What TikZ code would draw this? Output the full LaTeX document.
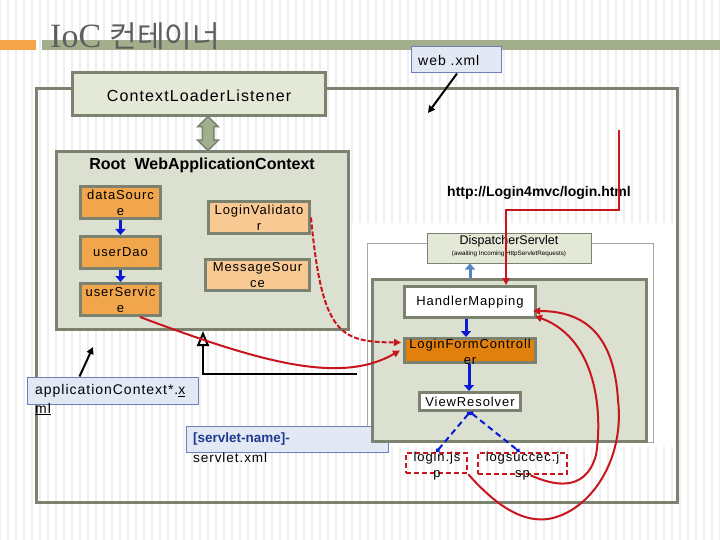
\documentclass[tikz,border=0pt]{standalone}
\usepackage{fontspec}
\setmainfont{Liberation Sans}
\newfontfamily\gfont[LetterSpace=7]{Liberation Sans}
\newfontfamily\serfont{Liberation Serif}
\newfontfamily\krfont{Noto Sans CJK KR}
\usetikzlibrary{arrows.meta,calc,shapes.arrows}
\definecolor{bord}{HTML}{7B826F}
\definecolor{ctxfill}{HTML}{E4E8D6}
\definecolor{rootfill}{HTML}{DCE0D1}
\definecolor{orng}{HTML}{F2A64C}
\definecolor{lorng}{HTML}{F9C994}
\definecolor{dorng}{HTML}{E2800E}
\definecolor{xmlfill}{HTML}{E2E9F5}
\definecolor{xmlbord}{HTML}{6E7FB5}
\definecolor{redc}{HTML}{C8161E}
\definecolor{bluec}{HTML}{0A1AD6}
\definecolor{steel}{HTML}{5686C0}
\definecolor{barg}{HTML}{A3AF8C}
\definecolor{baro}{HTML}{F5A44A}
\definecolor{stripec}{HTML}{EFEFEF}
\definecolor{snblue}{HTML}{1F3A8F}
\definecolor{titlec}{HTML}{5E5E5E}
\tikzset{
  gbox/.style={draw=bord, line width=3pt, inner sep=0pt},
  xmlbox/.style={draw=xmlbord, fill=xmlfill, line width=1pt, inner sep=0pt},
  lbl/.style={align=center, inner sep=0pt, font={\gfont\fontsize{13}{16}\selectfont}},
  bluearrow/.style={draw=bluec, line width=3pt, -{Triangle[length=6pt,width=10pt]}},
  bluedash/.style={draw=bluec, line width=2pt, dash pattern=on 6pt off 4pt, {Circle[length=4pt]}-{Circle[length=4pt]}},
  redarrow/.style={draw=redc, line width=2pt, -{Triangle[length=7pt,width=7pt]}},
  blackarrow/.style={draw=black, line width=2pt, -{Triangle[length=7pt,width=7pt]}},
}
\begin{document}
\begin{tikzpicture}[x=1pt,y=-1pt]
\useasboundingbox (0,0) rectangle (720,540);
\fill[white] (0,0) rectangle (720,540);
\foreach \i in {0,8,...,720} \draw[stripec, line width=2.5pt] (\i,0) -- (\i,540);
\fill[white] (352,223) rectangle (673,333);
\fill[white] (367,333) rectangle (673,447);

% title
\fill[baro] (0,40) rectangle (36,50);
\fill[barg] (42,40) rectangle (720,50);
\node[anchor=base west, inner sep=0pt, text=titlec] (title) at (50,48)
  {\serfont\fontsize{34}{34}\selectfont IoC \krfont\fontsize{30}{30}\selectfont 컨테이너};

% outer container
\node[gbox, minimum width=641, minimum height=413] (outer) at (356.5,295.5) {};

% web.xml
\node[xmlbox, minimum width=90, minimum height=26] (webxml) at (456,60) {};
\node[anchor=west, inner sep=0pt, font={\gfont\fontsize{14}{16}\selectfont}] (webxmll) at (418,60) {web .xml};
\coordinate (webtip) at (428,113);
\draw[blackarrow] ($(webxml.south)+(1,0)$) -- (webtip);

% ContextLoaderListener
\node[gbox, fill=ctxfill, minimum width=253, minimum height=43] (ctx) at (199,94) {};
\node[lbl, font={\gfont\fontsize{16}{18}\selectfont}] (ctxl) at (199,96) {ContextLoaderListener};

% Root WebApplicationContext
\node[gbox, fill=rootfill, minimum width=292, minimum height=178] (root) at (202.5,240.5) {};
\node[inner sep=0pt, font={\bfseries\fontsize{16}{18}\selectfont}] (rootl) at (202,165) {Root\ \ WebApplicationContext};

\node[double arrow, draw=bord, line width=1.5pt, fill=barg, rotate=90, minimum height=34, minimum width=19, double arrow head extend=4.5, inner xsep=0pt, inner ysep=5pt] (dbl) at (208,133.5) {};

\node[gbox, fill=orng, minimum width=80, minimum height=32] (ds) at (120.5,202.5) {};
\node[lbl] (dsl) at (ds.center) {dataSourc\\e};
\node[gbox, fill=orng, minimum width=80, minimum height=32] (dao) at (120.5,252.5) {};
\node[lbl] (daol) at (dao.center) {userDao};
\node[gbox, fill=orng, minimum width=80, minimum height=32] (svc) at (120.5,299.5) {};
\node[lbl] (svcl) at (svc.center) {userServic\\e};
\node[gbox, fill=lorng, minimum width=101, minimum height=32] (lv) at (259,217.5) {};
\node[lbl] (lvl) at (lv.center) {LoginValidato\\r};
\node[gbox, fill=lorng, minimum width=104, minimum height=31] (ms) at (257.5,275) {};
\node[lbl] (msl) at (ms.center) {MessageSour\\ce};
\draw[bluearrow] (ds.south) -- (dao.north);
\draw[bluearrow] (dao.south) -- (svc.north);

% dispatcher area
\draw[gray!70, line width=1pt] (367,243) rectangle (653,442);
\node[draw=bord, line width=1pt, fill=ctxfill, minimum width=164, minimum height=30, inner sep=0pt] (disp) at (509,248) {};
\node[inner sep=0pt, align=center, font={\fontsize{12.5}{13}\selectfont}] (displ) at (509,246)
  {DispatcherServlet\\[-2pt]{\fontsize{6.3}{7}\selectfont (awaiting Incoming HttpServletRequests)}};

% xml boxes
\node[xmlbox, minimum width=171, minimum height=27] (appctx) at (112.5,390.5) {};
\node[anchor=west, inner sep=0pt, font={\gfont\fontsize{14}{16}\selectfont}] (appctxl) at (35,391) {applicationContext*.\underline{x}};
\node[anchor=west, inner sep=0pt, font={\gfont\fontsize{14}{16}\selectfont}] (appctxl2) at (35,409) {\underline{ml}};
\node[xmlbox, minimum width=202, minimum height=26] (svx) at (287,439) {};
\node[anchor=west, inner sep=0pt, text=snblue, font={\bfseries\fontsize{13.5}{16}\selectfont}] (svxl) at (193,439) {[servlet-name]-};
\node[anchor=west, inner sep=0pt, font={\gfont\fontsize{13.5}{16}\selectfont}] (svxl2) at (193,458) {servlet.xml};

% inner container
\node[gbox, fill=rootfill, minimum width=274, minimum height=162] (inner) at (509.5,360.5) {};
\node[gbox, fill=white, minimum width=131, minimum height=31] (hm) at (470,302) {};
\node[lbl] (hml) at (hm.center) {HandlerMapping};
\node[gbox, fill=dorng, minimum width=131, minimum height=24] (lfc) at (470,350.5) {};
\node[lbl] (lfcl) at (470,352) {LoginFormControll\\er};
\node[gbox, fill=white, minimum width=101, minimum height=18] (vr) at (470,401.5) {};
\node[lbl] (vrl) at (vr.center) {ViewResolver};
\draw[draw=steel, line width=3pt, -{Triangle[length=6pt,width=10pt]}] (hm.north |- inner.north) -- (hm.north |- disp.south);
\draw[bluearrow] ($(hm.south)+(-4,0)$) -- ($(lfc.north)+(-4,0)$);
\draw[bluearrow] ($(lfc.south)+(-1,0)$) -- ($(vr.north)+(-1,0)$);

% jsp boxes
\node[draw=redc, line width=2.5pt, dash pattern=on 5pt off 3pt, minimum width=61, minimum height=20, inner sep=0pt] (lj) at (436.5,463) {};
\node[lbl] (ljl) at (437,466) {login.js\\p};
\node[draw=redc, line width=2.5pt, dash pattern=on 5pt off 3pt, minimum width=89, minimum height=21, inner sep=0pt] (ls) at (522.5,463.5) {};
\node[lbl] (lsl) at (522.5,466) {logsuccec.j\\sp};
\draw[bluedash] (vr.south) -- (lj.north);
\draw[bluedash] (vr.south) -- ($(ls.north)+(-3,0)$);

% black arrows
\coordinate (actip) at (93,347);
\draw[blackarrow] ($(appctx.north west)+(53,0)$) -- (actip);
\coordinate (gstart) at (357,374);
\coordinate (gcorner) at (203,374);
\draw[black, line width=2pt, -{Triangle[open, length=15pt, width=12pt]}] (gstart) -- (gcorner) -- (gcorner |- root.south);

% red request line
\coordinate (rtop) at (619,130);
\coordinate (rbend) at (506,210);
\node[inner sep=0pt, font={\bfseries\fontsize{14}{16}\selectfont}] (url) at (539,193) {http://Login4mvc/login.html};
\draw[redarrow] (rtop) |- (rbend) -- (rbend |- hm.north);

% red curves
\draw[redarrow, dash pattern=on 5pt off 2pt] (lv.east) .. controls (322,335) and (340,342) .. ($(lfc.west)+(-2,-8)$);
\draw[redarrow] ($(svc.south east)+(-22,0)$) .. controls (260,362) and (340,385) .. ($(lfc.west)+(-3,0)$);
\draw[redarrow] (lj.south east) .. controls (500,510) and (525,522) .. (548,519)
  .. controls (590,512) and (625,460) .. (618,400)
  .. controls (614,335) and (585,311) .. ($(hm.east)+(-4,9)$);
\draw[redarrow] ($(ls.south)+(8,0)$) .. controls (550,484) and (585,495) .. (596,455)
  .. controls (602,420) and (600,340) .. ($(hm.east)+(-2,14)$);
\end{tikzpicture}
\end{document}
